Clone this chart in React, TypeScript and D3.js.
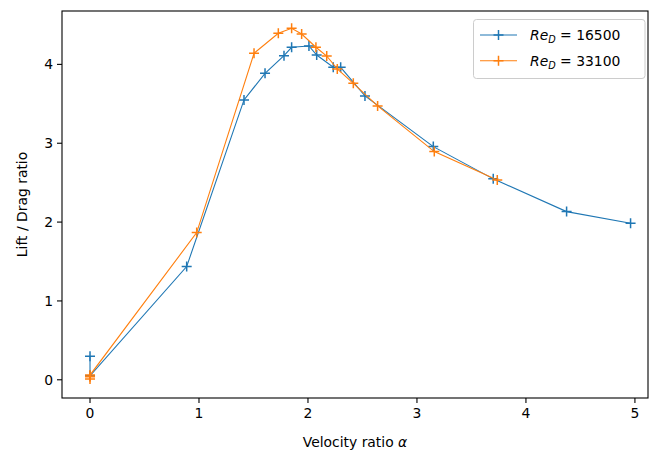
import React from "react";
import * as d3 from "d3";

const xTicks = [0, 1, 2, 3, 4, 5];
const yTicks = [0, 1, 2, 3, 4];

const re16500X = [0, 0, 0.887, 1.413, 1.606, 1.78, 1.85, 2.009, 2.08, 2.232, 2.3, 2.523, 3.15, 3.7, 4.373, 4.96];
const re16500Y = [0.3, 0.05, 1.436, 3.549, 3.887, 4.11, 4.217, 4.233, 4.119, 3.963, 3.963, 3.6, 2.957, 2.548, 2.133, 1.986];

const re33100X = [0, 0, 0, 0.979, 1.505, 1.728, 1.85, 1.942, 2.073, 2.172, 2.269, 2.416, 2.639, 3.159, 3.737];
const re33100Y = [0.01, 0.04, 0.06, 1.867, 4.141, 4.394, 4.458, 4.385, 4.217, 4.106, 3.942, 3.76, 3.473, 2.894, 2.535];

const seriesNames = ["16500", "33100"];
const colors = ["#1f77b4", "#ff7f0e"];

const W = 649, H = 452;
const L = 62, R = 648, T = 11, B = 398;
const FONT = "DejaVu Sans, sans-serif";

export default function App() {
  const x = d3.scaleLinear().domain([-0.257, 5.12]).range([L, R]);
  const y = d3.scaleLinear().domain([-0.231, 4.677]).range([B, T]);
  const series = [
    re16500X.map((v, i) => [v, re16500Y[i]] as [number, number]),
    re33100X.map((v, i) => [v, re33100Y[i]] as [number, number]),
  ];
  const line = d3.line<[number, number]>().x(d => x(d[0])).y(d => y(d[1]));
  const ms = 5;
  const plus = (cx: number, cy: number, c: string, k: string) => (
    <path key={k} d={`M${cx - ms},${cy}H${cx + ms}M${cx},${cy - ms}V${cy + ms}`} stroke={c} strokeWidth={1.5} fill="none" />
  );
  const legendRows = [35, 60.7];
  return (
    <svg width={W} height={H} style={{ position: "absolute", left: 0, top: 0, background: "#fff" }} fontFamily={FONT}>
      <rect x={0} y={0} width={W} height={H} fill="#fff" />
      {series.map((s, si) => (
        <g key={si}>
          <path d={line(s) || ""} fill="none" stroke={colors[si]} strokeWidth={1.1} />
          {s.map((d, i) => plus(x(d[0]), y(d[1]), colors[si], `${si}-${i}`))}
        </g>
      ))}
      <rect x={L} y={T} width={R - L} height={B - T} fill="none" stroke="#000" strokeWidth={1.1} />
      {xTicks.map(t => (
        <g key={t} transform={`translate(${x(t)},${B})`}>
          <line y2={5} stroke="#000" strokeWidth={1.1} />
          <text y={20} textAnchor="middle" fontSize={13.9} fill="#000">{t}</text>
        </g>
      ))}
      {yTicks.map(t => (
        <g key={t} transform={`translate(${L},${y(t)})`}>
          <line x2={-5} stroke="#000" strokeWidth={1.1} />
          <text x={-9} dy="0.36em" textAnchor="end" fontSize={13.9} fill="#000">{t}</text>
        </g>
      ))}
      <text x={(L + R) / 2} y={447} textAnchor="middle" fontSize={13.9} fill="#000">
        Velocity ratio <tspan fontStyle="italic">α</tspan>
      </text>
      <text transform={`translate(27,${(T + B) / 2}) rotate(-90)`} textAnchor="middle" fontSize={13.9} fill="#000">
        Lift / Drag ratio
      </text>
      <rect x={473.5} y={19.5} width={171.5} height={59} rx={3} fill="#fff" fillOpacity={0.8} stroke="#ccc" strokeWidth={1} />
      {seriesNames.map((n, i) => (
        <g key={n}>
          <line x1={480} x2={517} y1={legendRows[i]} y2={legendRows[i]} stroke={colors[i]} strokeWidth={1.1} />
          {plus(498.5, legendRows[i], colors[i], `l${i}`)}
          <text x={530} y={legendRows[i]} dy="0.36em" fontSize={13.9} fill="#000">
            <tspan fontStyle="italic">Re</tspan>
            <tspan fontStyle="italic" fontSize={9.7} dy={3}>D</tspan>
            <tspan dy={-3}>{` = ${n}`}</tspan>
          </text>
        </g>
      ))}
    </svg>
  );
}
